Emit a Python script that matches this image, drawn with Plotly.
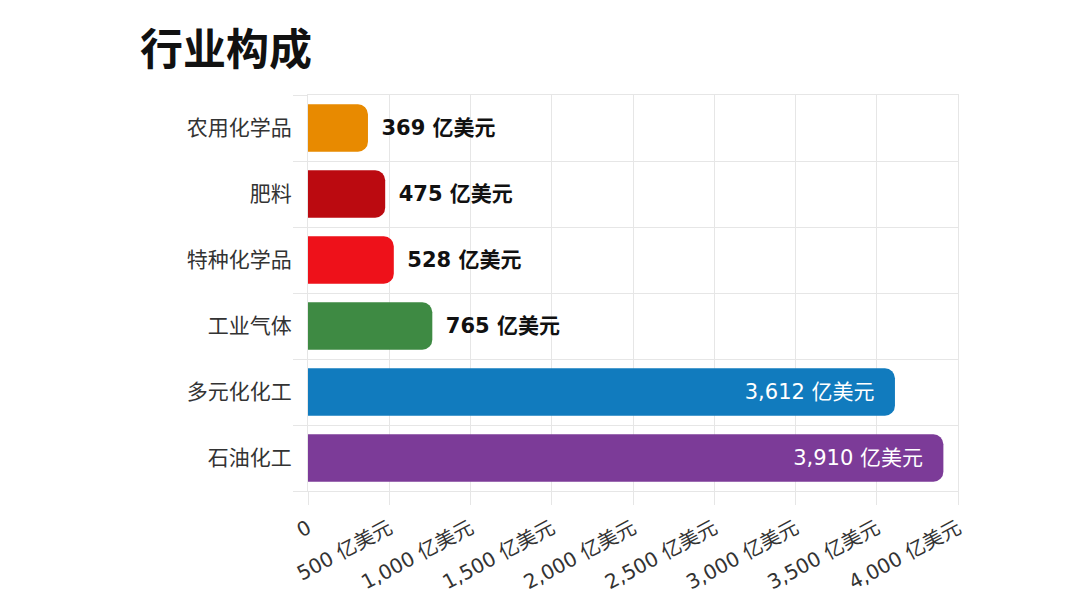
import plotly.graph_objects as go

categories = ["农用化学品", "肥料", "特种化学品", "工业气体", "多元化化工", "石油化工"]
values = [369, 475, 528, 765, 3612, 3910]
colors = ["#E88A00", "#BB0A10", "#EE111A", "#3E8A43", "#117BBE", "#7C3B98"]
x_ticks = [0, 500, 1000, 1500, 2000, 2500, 3000, 3500, 4000]
unit = "亿美元"

positions = list(range(len(categories)))
boundaries = [p - 0.5 for p in positions] + [positions[-1] + 0.5]
x_ticktext = ["0" if v == 0 else f"{v:,} {unit}" for v in x_ticks]

inside = [v > 2000 for v in values]
texts = [
    (f"{v:,}\u00a0{unit}\u2002\u00a0" if ins else f"\u2002{v:,}\u00a0{unit}")
    for v, ins in zip(values, inside)
]
textpos = ["inside" if ins else "outside" for ins in inside]

FONT = "DejaVu Sans, Noto Sans CJK SC, sans-serif"
CJK = "Noto Sans CJK SC, sans-serif"
GRID = "#e6e6e6"

fig = go.Figure(
    go.Bar(
        x=values,
        y=positions,
        orientation="h",
        marker=dict(color=colors, line=dict(width=0), cornerradius=10),
        width=0.72,
        text=texts,
        textposition=textpos,
        insidetextanchor="end",
        cliponaxis=False,
        insidetextfont=dict(family=FONT, size=21, color="white"),
        outsidetextfont=dict(family=FONT, size=21, color="#111111", weight="bold"),
        hoverinfo="skip",
    )
)

fig.update_layout(
    width=1080,
    height=608,
    margin=dict(l=300, r=130, t=87, b=125),
    paper_bgcolor="white",
    plot_bgcolor="white",
    showlegend=False,
    title=dict(
        text="<b>行业构成</b>",
        x=132 / 1080,
        xanchor="left",
        xref="container",
        y=1 - 42 / 608,
        yanchor="middle",
        yref="container",
        font=dict(family=CJK, size=43, color="#111111"),
    ),
    xaxis=dict(
        range=[0, 4000],
        tickvals=x_ticks,
        ticktext=x_ticktext,
        tickangle=-28,
        ticks="outside",
        ticklen=13,
        tickcolor=GRID,
        ticklabelstandoff=4,
        showgrid=True,
        gridcolor=GRID,
        zeroline=False,
        showline=True,
        linecolor=GRID,
        mirror=True,
        tickfont=dict(family=FONT, size=20, color="#333333"),
    ),
    yaxis=dict(
        range=[positions[-1] + 0.5, positions[0] - 0.5],
        tickvals=positions,
        ticktext=categories,
        ticks="outside",
        ticklen=11,
        tickcolor="rgba(0,0,0,0)",
        showgrid=False,
        zeroline=False,
        showline=True,
        linecolor=GRID,
        mirror=True,
        tickfont=dict(family=CJK, size=21, color="#333333"),
        minor=dict(
            tickvals=boundaries,
            ticks="outside",
            ticklen=14,
            tickcolor=GRID,
            showgrid=True,
            gridcolor=GRID,
        ),
    ),
)

fig.write_html("out.html")
